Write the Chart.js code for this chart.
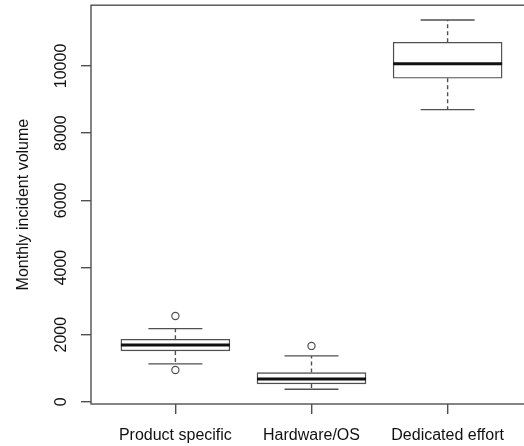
<!DOCTYPE html>
<html>
<head>
<meta charset="utf-8">
<script src="https://cdn.jsdelivr.net/npm/chart.js@4.4.0/dist/chart.umd.min.js"></script>
<style>
  html, body { margin: 0; padding: 0; background: #fff; overflow: hidden; }
  #wrap { width: 524px; height: 446px; overflow: hidden; }
</style>
</head>
<body>
<div id="wrap"><canvas id="c" width="540" height="446"></canvas></div>
<script>
const categories = ['Product specific', 'Hardware/OS', 'Dedicated effort'];
const lowerWhisker = [1131, 378, 8699];
const q1 = [1518, 536, 9633];
const median = [1696, 684, 10068];
const q3 = [1866, 872, 10705];
const upperWhisker = [2181, 1369, 11368];
const outliers = [[2559, 952], [1667], []];
const yTicks = [0, 2000, 4000, 6000, 8000, 10000];

const LINE = '#505050';
const BOX_HALF = 54.5;
const CAP_HALF = 27;
const FONT = "'Liberation Sans', Arial, sans-serif";

// whiskers, caps and medians drawn through the chart's scales
const boxExtras = {
  id: 'boxExtras',
  afterDatasetsDraw(chart) {
    const { ctx, scales: { x, y } } = chart;
    ctx.save();
    categories.forEach((cat, i) => {
      const px = x.getPixelForValue(i + 1);
      ctx.strokeStyle = LINE;
      ctx.lineWidth = 1.4;
      // dashed whiskers
      ctx.setLineDash([4, 3]);
      ctx.beginPath();
      ctx.moveTo(px, y.getPixelForValue(q3[i]));
      ctx.lineTo(px, y.getPixelForValue(upperWhisker[i]));
      ctx.moveTo(px, y.getPixelForValue(q1[i]));
      ctx.lineTo(px, y.getPixelForValue(lowerWhisker[i]));
      ctx.stroke();
      // caps
      ctx.setLineDash([]);
      ctx.beginPath();
      [upperWhisker[i], lowerWhisker[i]].forEach((v) => {
        const py = y.getPixelForValue(v);
        ctx.moveTo(px - CAP_HALF, py);
        ctx.lineTo(px + CAP_HALF, py);
      });
      ctx.stroke();
      // median
      ctx.strokeStyle = '#111';
      ctx.lineWidth = 3;
      ctx.beginPath();
      const my = y.getPixelForValue(median[i]);
      ctx.moveTo(px - BOX_HALF, my);
      ctx.lineTo(px + BOX_HALF, my);
      ctx.stroke();
    });
    // plot frame
    const a = chart.chartArea;
    ctx.strokeStyle = LINE;
    ctx.lineWidth = 1.4;
    ctx.strokeRect(a.left, a.top, a.right - a.left, a.bottom - a.top);
    ctx.restore();
  },
};

function noPadding(scale) {
  scale.paddingTop = 0;
  scale.paddingBottom = 0;
  scale.paddingLeft = 0;
  scale.paddingRight = 0;
}

new Chart(document.getElementById('c'), {
  type: 'bar',
  data: {
    datasets: [
      {
        type: 'bar',
        data: categories.map((c, i) => ({ x: i + 1, y: [q1[i], q3[i]] })),
        backgroundColor: '#ffffff',
        borderColor: LINE,
        borderWidth: 1.4,
        borderSkipped: false,
        barThickness: BOX_HALF * 2,
      },
      {
        type: 'scatter',
        data: outliers.flatMap((vals, i) => vals.map((v) => ({ x: i + 1, y: v }))),
        pointRadius: 3.6,
        pointBorderWidth: 1.2,
        pointBorderColor: LINE,
        pointBackgroundColor: 'rgba(0,0,0,0)',
        showLine: false,
      },
    ],
  },
  options: {
    responsive: false,
    animation: false,
    layout: { padding: { top: 4, right: 8, left: 0, bottom: 0 } },
    plugins: { legend: { display: false }, tooltip: { enabled: false } },
    scales: {
      x: {
        type: 'linear',
        min: 0.38,
        max: 3.62,
        offset: false,
        afterBuildTicks: (scale) => { scale.ticks = categories.map((c, i) => ({ value: i + 1 })); },
        afterFit: (scale) => { scale.height = 42; noPadding(scale); },
        grid: { drawOnChartArea: false, offset: false, tickLength: 10, color: LINE, lineWidth: 1.4 },
        border: { display: false },
        ticks: {
          callback: (v) => categories[v - 1],
          font: { family: FONT, size: 16 },
          color: '#111',
          padding: 12,
          maxRotation: 0,
          autoSkip: false,
        },
      },
      y: {
        min: -62,
        max: 11808,
        afterBuildTicks: (scale) => { scale.ticks = yTicks.map((v) => ({ value: v })); },
        afterFit: (scale) => { scale.width = 91; noPadding(scale); },
        grid: { drawOnChartArea: false, tickLength: 10, color: LINE, lineWidth: 1.4 },
        border: { display: false },
        ticks: {
          callback: (v) => String(v),
          font: { family: FONT, size: 16 },
          color: '#111',
          minRotation: 90,
          maxRotation: 90,
          crossAlign: 'center',
          padding: -3,
          autoSkip: false,
        },
        title: {
          display: true,
          text: 'Monthly incident volume',
          font: { family: FONT, size: 16 },
          color: '#111',
          padding: { top: 14, bottom: 0 },
        },
      },
    },
  },
  plugins: [boxExtras],
});
</script>
</body>
</html>
